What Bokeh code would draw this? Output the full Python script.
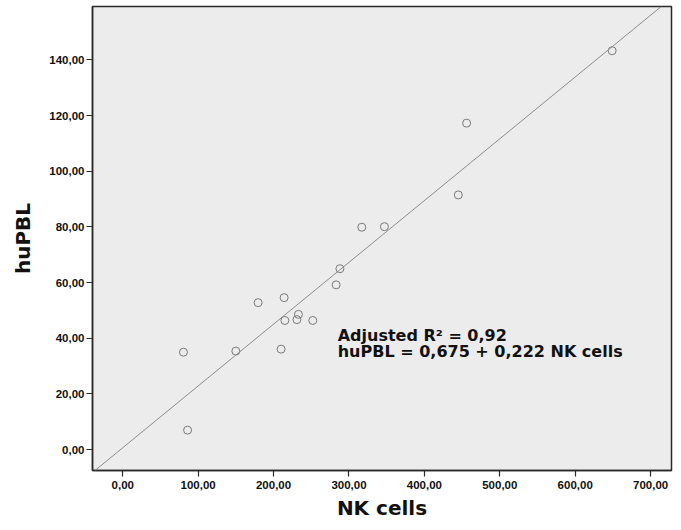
from bokeh.plotting import figure
from bokeh.models import (ColumnDataSource, FixedTicker, CustomJSTickFormatter,
                          Range1d, Slope, Label)
from bokeh.embed import file_html
from bokeh.resources import INLINE

# ---- data ----
nk_cells = [649, 456, 445, 317, 347, 288, 283, 214, 179.5, 233, 231, 215, 252, 210, 150, 80.5, 86]
hupbl = [143.3, 117.3, 91.5, 79.9, 80.1, 65.0, 59.2, 54.6, 52.8, 48.6, 46.7, 46.4, 46.4, 36.1, 35.4, 35.0, 7.0]

fit_intercept = 0.675
fit_slope = 0.222

x_ticks = [0, 100, 200, 300, 400, 500, 600, 700]
y_ticks = [0, 20, 40, 60, 80, 100, 120, 140]

x_title = "NK cells"
y_title = "huPBL"
annotation_lines = ["Adjusted R\u00b2 = 0,92", "huPBL = 0,675 + 0,222 NK cells"]

src = ColumnDataSource(data=dict(x=nk_cells, y=hupbl))

p = figure(width=673, height=522, output_backend="svg", toolbar_location=None,
           x_range=Range1d(-40.1, 727.7), y_range=Range1d(-7.5, 159.2),
           min_border_left=92, min_border_right=2, min_border_top=6, min_border_bottom=48)

p.background_fill_color = "#ececec"
p.border_fill_color = "white"
p.outline_line_color = "#2a2a2a"
p.outline_line_width = 1.5
p.xgrid.visible = False
p.ygrid.visible = False

fmt = CustomJSTickFormatter(code="return tick.toFixed(2).replace('.', ',');")

for ax, ticks in ((p.xaxis, x_ticks), (p.yaxis, y_ticks)):
    ax.ticker = FixedTicker(ticks=ticks)
    ax.formatter = fmt
    ax.axis_line_color = "#2a2a2a"
    ax.axis_line_width = 1.5
    ax.major_tick_line_color = "#2a2a2a"
    ax.major_tick_line_width = 1.2
    ax.major_tick_in = 0
    ax.major_tick_out = 6
    ax.minor_tick_line_color = None
    ax.major_label_text_font = "Liberation Sans"
    ax.major_label_text_font_style = "bold"
    ax.major_label_text_font_size = "11.5px"
    ax.major_label_text_color = "#111111"
    ax.axis_label_text_font = "DejaVu Sans"
    ax.axis_label_text_font_style = "bold"
    ax.axis_label_text_font_size = "20px"
    ax.axis_label_text_color = "#111111"
    ax.axis_label_text_line_height = 0.8

p.xaxis.axis_label = x_title
p.yaxis.axis_label = y_title
p.xaxis.major_label_standoff = 4
p.yaxis.major_label_standoff = 2
p.xaxis.axis_label_standoff = 4
p.yaxis.axis_label_standoff = 11

p.add_layout(Slope(gradient=fit_slope, y_intercept=fit_intercept,
                   line_color="#8c8c8c", line_width=1))

p.scatter("x", "y", source=src, marker="circle", size=8,
          fill_color=None, line_color="#7a7a7a", line_width=1)

label_x = 285.1
label_ys = [40.9, 35.2]
for txt, ly in zip(annotation_lines, label_ys):
    p.add_layout(Label(x=label_x, y=ly, text=txt, text_font="DejaVu Sans",
                       text_font_style="bold", text_font_size="16px",
                       text_color="#111111", text_baseline="alphabetic",
                       text_align="left"))

open("out.html", "w").write(file_html(p, INLINE))
